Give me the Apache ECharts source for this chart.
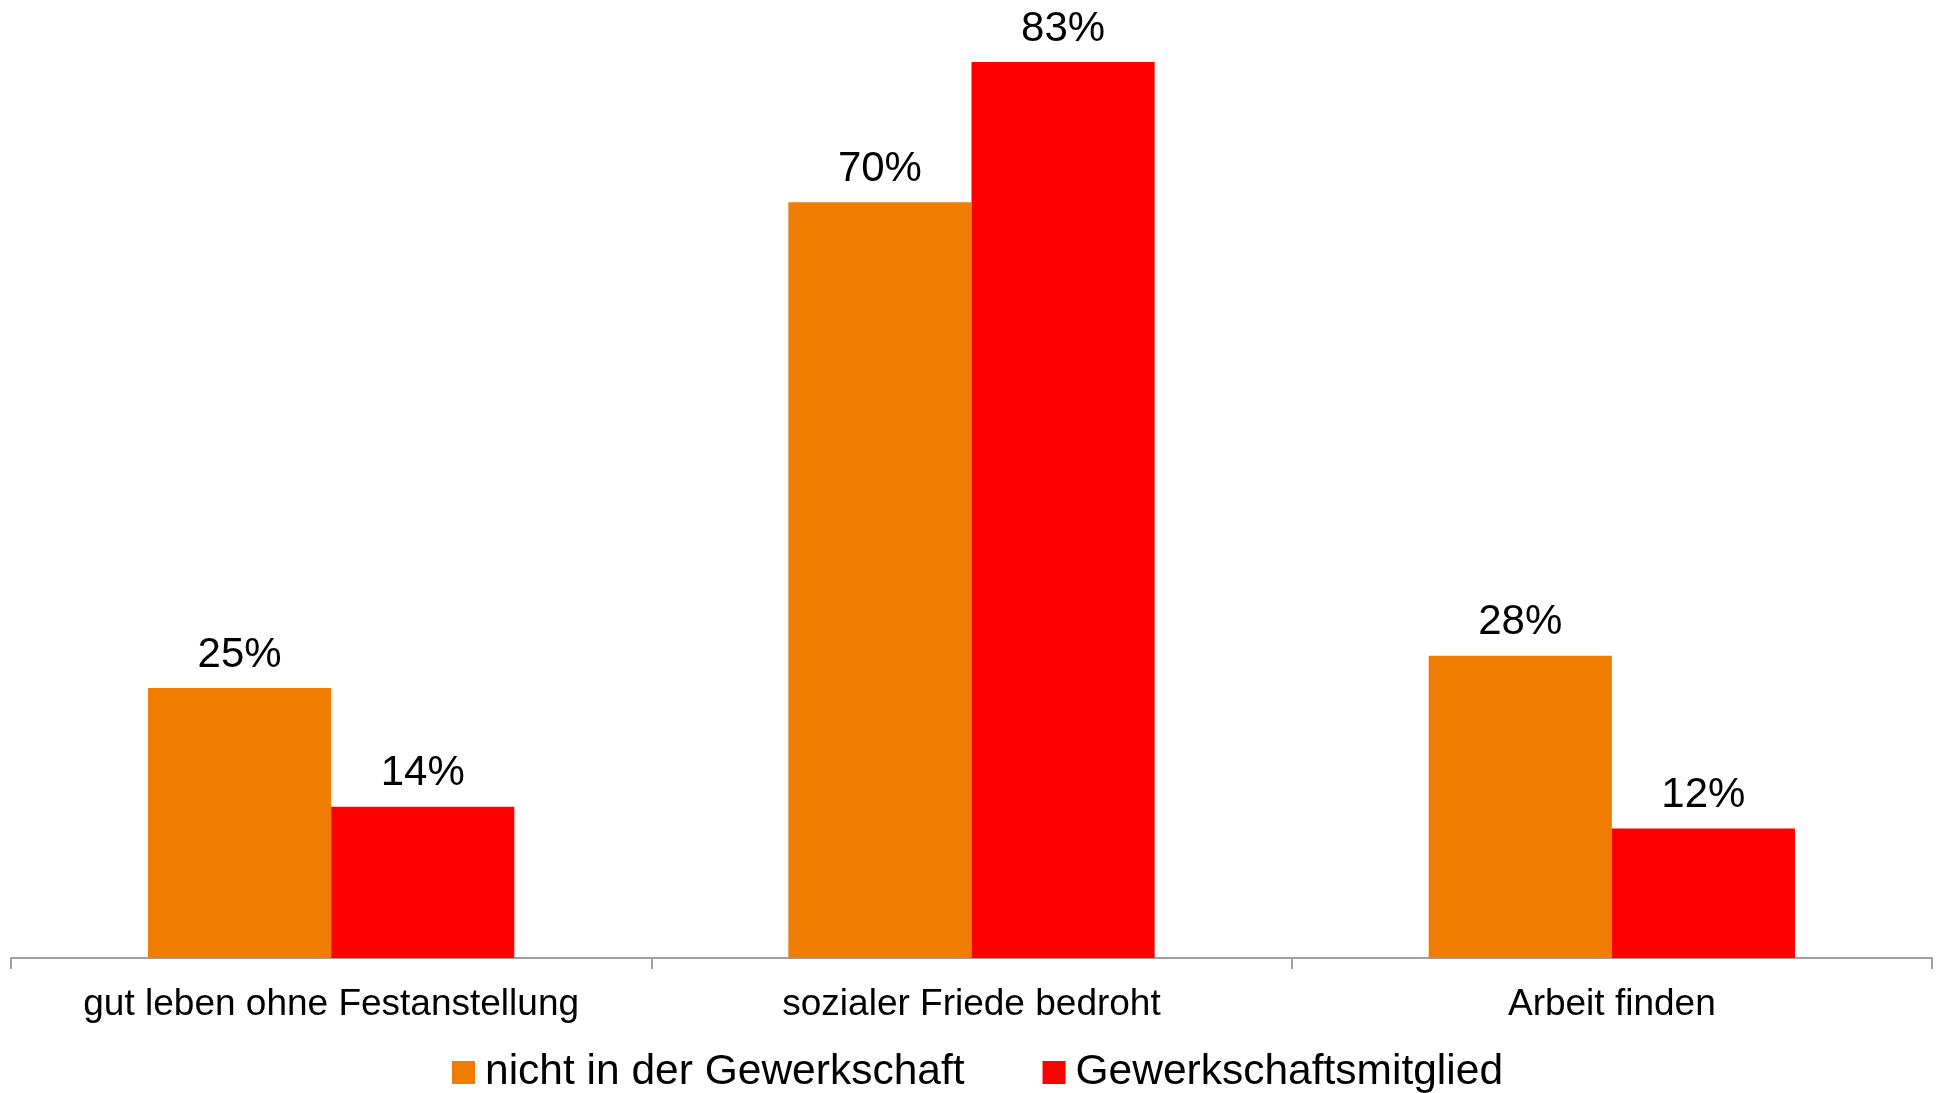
<!DOCTYPE html>
<html>
<head>
<meta charset="utf-8">
<script src="https://cdn.jsdelivr.net/npm/echarts@6/dist/echarts.min.js"></script>
<style>
  html, body { margin: 0; padding: 0; background: #fff; }
  #main { width: 1943px; height: 1093px; }
</style>
</head>
<body>
<div id="main"></div>
<script>
const categories = ['gut leben ohne Festanstellung', 'sozialer Friede bedroht', 'Arbeit finden']
const seriesNames = ['nicht in der Gewerkschaft', 'Gewerkschaftsmitglied']
const nichtMitglied = [25, 70, 28]
const mitglied = [14, 83, 12]

const font = '"Liberation Sans", Arial, sans-serif'
const myChart = echarts.init(document.getElementById('main'))

// gemeinsame Beschriftung über den Balken
const barLabel = {
  show: true,
  position: 'top',
  distance: 12,
  formatter: '{c}%',
  color: '#000',
  fontFamily: font,
  fontSize: 42
}

const option = {
  backgroundColor: '#fff',
  animation: false,
  grid: { left: 11, right: 11, top: 8, bottom: 135 },
  legend: {
    top: 1046,
    left: 447,
    itemWidth: 23,
    itemHeight: 23,
    itemGap: 78,
    icon: 'rect',
    textStyle: {
      fontFamily: font,
      fontSize: 42.5,
      color: '#000',
      padding: [0, 0, 0, 5]
    },
    data: seriesNames
  },
  xAxis: {
    type: 'category',
    data: categories,
    axisLine: { show: true, lineStyle: { color: '#a0a0a0', width: 2 } },
    axisTick: { show: true, interval: 0, length: 11, lineStyle: { color: '#a0a0a0', width: 2 } },
    axisLabel: {
      interval: 0,
      hideOverlap: false,
      margin: 28,
      color: '#000',
      fontFamily: font,
      fontSize: 37
    }
  },
  yAxis: {
    type: 'value',
    min: 0,
    max: 88,
    show: false,
    splitLine: { show: false }
  },
  series: [
    {
      name: seriesNames[0],
      type: 'bar',
      data: nichtMitglied,
      barGap: '0%',
      barCategoryGap: '42.8%',
      itemStyle: { color: '#F07C00' },
      label: barLabel
    },
    {
      name: seriesNames[1],
      type: 'bar',
      data: mitglied,
      itemStyle: { color: '#FF0000' },
      label: barLabel
    }
  ]
}
myChart.setOption(option)
</script>
</body>
</html>
